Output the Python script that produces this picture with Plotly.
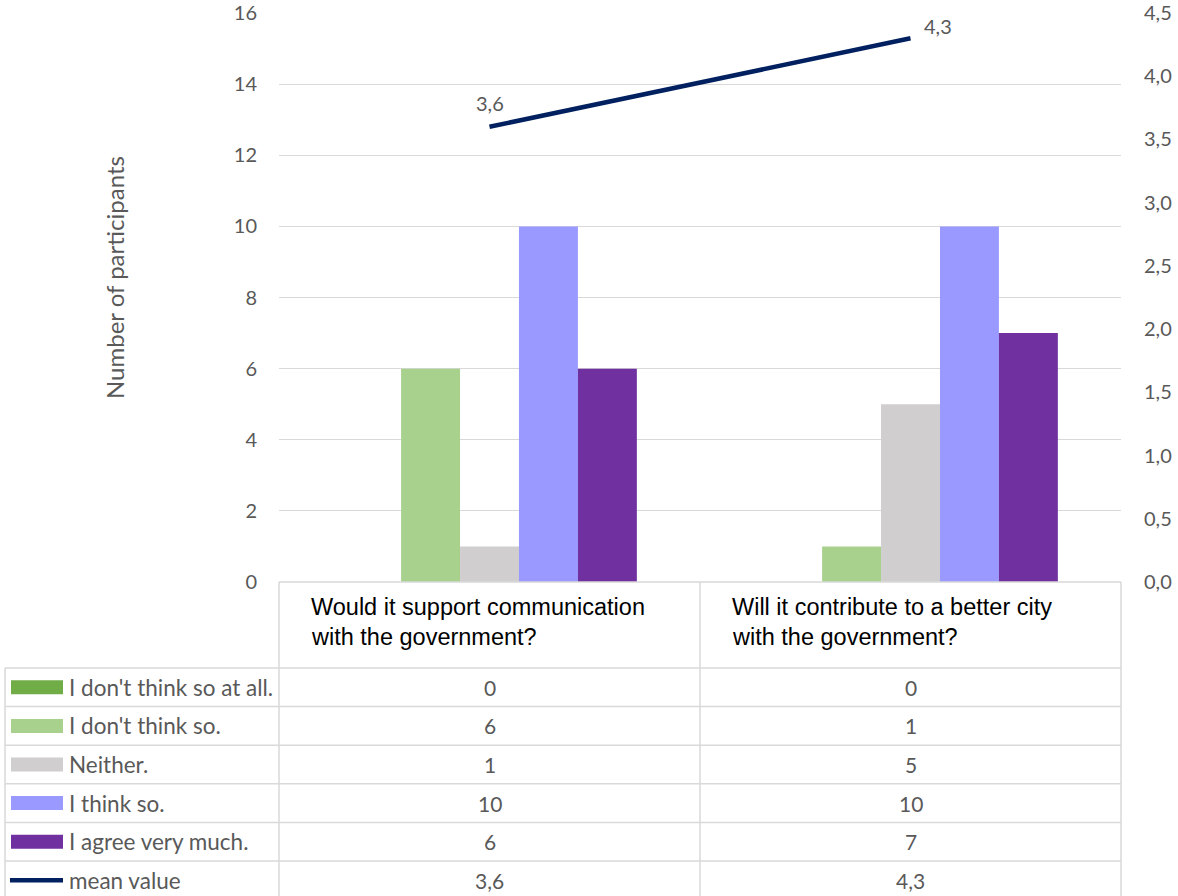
import plotly.graph_objects as go

# ---------------- data ----------------
categories = [
    "Would it support communication\nwith the government?",
    "Will it contribute to a better city\nwith the government?",
]
series_names = [
    "I don't think so at all.",
    "I don't think so.",
    "Neither.",
    "I think so.",
    "I agree very much.",
]
series_values = [
    [0, 0],
    [6, 1],
    [1, 5],
    [10, 10],
    [6, 7],
]
mean_name = "mean value"
mean_values = [3.6, 4.3]

left_ticks = [0, 2, 4, 6, 8, 10, 12, 14, 16]
right_ticks = [0.0, 0.5, 1.0, 1.5, 2.0, 2.5, 3.0, 3.5, 4.0, 4.5]

# ---------------- style ----------------
series_colors = ["#70AD47", "#A9D18E", "#D0CECE", "#9999FF", "#7030A0"]
line_color = "#002060"
grid_color = "#D9D9D9"
text_gray = "#595959"
W, H = 1178, 896
FONT = "Lato"

x_cats = [c.replace("\n", " ") for c in categories]

def px(x):
    return x / W

def py(y):
    return 1 - y / H

plot_left, plot_right = 279, 1121
plot_top, plot_bottom = 13, 582

fig = go.Figure()
for name, vals, col in zip(series_names, series_values, series_colors):
    fig.add_trace(go.Bar(x=x_cats, y=vals, name=name, marker=dict(color=col, line=dict(width=0)),
                         showlegend=False, yaxis="y"))

fig.add_trace(go.Scatter(x=x_cats, y=mean_values, name=mean_name, mode="lines",
                         line=dict(color=line_color, width=4.5), yaxis="y2", showlegend=False))

annotations = []
shapes = []

# mean labels
fmt = lambda v: f"{v:.1f}".replace(".", ",")
label_offsets = [(0, 24), (27, 12)]
for xc, v, (dx, dy) in zip(x_cats, mean_values, label_offsets):
    annotations.append(dict(x=xc, y=v, xref="x", yref="y2", text=fmt(v), showarrow=False,
                            xshift=dx, yshift=dy, font=dict(family=FONT, size=20, color=text_gray)))

# y-axis title
annotations.append(dict(x=px(114), y=py(278), xref="paper", yref="paper", text="Number of participants",
                        textangle=-90, showarrow=False, xanchor="center", yanchor="middle",
                        font=dict(family=FONT, size=24, color=text_gray)))

# ---------------- data table ----------------
col_edges = [plot_left, (plot_left + plot_right) / 2, plot_right]
col_centers = [(col_edges[0] + col_edges[1]) / 2, (col_edges[1] + col_edges[2]) / 2]
header_top, header_bottom = plot_bottom, 668
row_h = 38.6
n_rows = len(series_names) + 1
row_tops = [header_bottom + i * row_h for i in range(n_rows)]
table_left = 5
line_style = dict(color=grid_color, width=1.5)

def hline(x0, x1, y):
    shapes.append(dict(type="line", xref="paper", yref="paper", x0=px(x0), x1=px(x1), y0=py(y), y1=py(y), line=line_style))

def vline(x, y0, y1):
    shapes.append(dict(type="line", xref="paper", yref="paper", x0=px(x), x1=px(x), y0=py(y0), y1=py(y1), line=line_style))

hline(plot_left, plot_right, header_top)
for yt in row_tops:
    hline(table_left, plot_right, yt)
for xe in col_edges:
    vline(xe, header_top, H + 5)
vline(table_left, header_bottom, H + 5)

# header text
for cat, xe in zip(categories, col_edges[:2]):
    for j, line in enumerate(cat.split("\n")):
        annotations.append(dict(x=px(xe + 30), y=py(607 + 30 * j), xref="paper", yref="paper", text=line,
                                showarrow=False, xanchor="left", yanchor="middle",
                                font=dict(family="Liberation Sans, Arial", size=23.5, color="black")))

# rows
row_labels = series_names + [mean_name]
row_values = [[str(v) for v in vals] for vals in series_values] + [[fmt(v) for v in mean_values]]
row_colors = series_colors + [line_color]
for i, (lab, vals, col) in enumerate(zip(row_labels, row_values, row_colors)):
    yc = row_tops[i] + row_h / 2
    if i < len(series_names):
        shapes.append(dict(type="rect", xref="paper", yref="paper", x0=px(11), x1=px(63),
                           y0=py(yc - 7), y1=py(yc + 7), fillcolor=col, line=dict(width=0)))
    else:
        shapes.append(dict(type="line", xref="paper", yref="paper", x0=px(10), x1=px(63),
                           y0=py(yc), y1=py(yc), line=dict(color=col, width=4.5)))
    annotations.append(dict(x=px(67), y=py(yc), xref="paper", yref="paper", text=lab, showarrow=False,
                            xanchor="left", yanchor="middle", font=dict(family=FONT, size=22.5, color=text_gray)))
    for v, xc in zip(vals, col_centers):
        annotations.append(dict(x=px(xc), y=py(yc), xref="paper", yref="paper", text=v, showarrow=False,
                                xanchor="center", yanchor="middle", font=dict(family=FONT, size=21, color=text_gray)))

fig.update_layout(
    width=W, height=H, margin=dict(l=0, r=0, t=0, b=0, autoexpand=False), autosize=False,
    paper_bgcolor="white", plot_bgcolor="white",
    separators=",.",
    barmode="group", bargap=0.3, bargroupgap=0,
    xaxis=dict(domain=[px(plot_left), px(plot_right)], range=[-0.5, 1.5], showticklabels=False,
               showgrid=False, zeroline=False, showline=False, fixedrange=True, automargin=False),
    yaxis=dict(domain=[py(plot_bottom), py(plot_top)], range=[0, 16], tickvals=left_ticks,
               showgrid=True, gridcolor=grid_color, gridwidth=1, zeroline=False, showline=False,
               tickfont=dict(family=FONT, size=20, color=text_gray), ticklabelstandoff=21,
               automargin=False),
    yaxis2=dict(overlaying="y", side="right", range=[0, 4.5], tickvals=right_ticks, tickformat=".1f",
                showgrid=False, zeroline=False, showline=False,
                tickfont=dict(family=FONT, size=20, color=text_gray), ticklabelstandoff=22,
                automargin=False),
    annotations=annotations, shapes=shapes,
)

fig.write_html("out.html")
